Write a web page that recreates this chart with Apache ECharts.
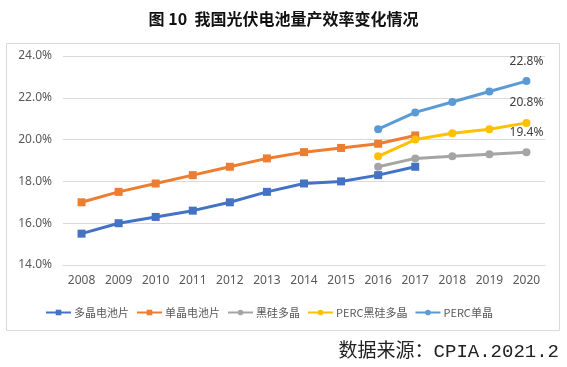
<!DOCTYPE html>
<html><head><meta charset="utf-8">
<script src="https://cdn.jsdelivr.net/npm/echarts@6/dist/echarts.min.js"></script>
<style>html,body{margin:0;padding:0;background:#fff}#c{width:567px;height:367px}</style>
</head><body><div id="c"></div>
<script>
var years = ['2008','2009','2010','2011','2012','2013','2014','2015','2016','2017','2018','2019','2020'];
var polySi = [15.5,16.0,16.3,16.6,17.0,17.5,17.9,18.0,18.3,18.7,null,null,null];
var monoSi = [17.0,17.5,17.9,18.3,18.7,19.1,19.4,19.6,19.8,20.2,null,null,null];
var blackSi = [null,null,null,null,null,null,null,null,18.7,19.1,19.2,19.3,19.4];
var percBlack = [null,null,null,null,null,null,null,null,19.2,20.0,20.3,20.5,20.8];
var percMono = [null,null,null,null,null,null,null,null,20.5,21.3,21.8,22.3,22.8];
var names = ['多晶电池片','单晶电池片','黑硅多晶','PERC黑硅多晶','PERC单晶'];
var colors = ['#4472C4','#ED7D31','#A5A5A5','#FFC000','#5B9BD5'];
var titleText = '图 10  我国光伏电池量产效率变化情况';
var sourceText = '数据来源：CPIA.2021.2';

var chart = echarts.init(document.getElementById('c'), null, {renderer:'canvas'});
var datas = [polySi, monoSi, blackSi, percBlack, percMono];
var symbols = ['rect','rect','circle','circle','circle'];
var labeled = [false,false,true,true,true];
var series = datas.map(function(d,i){
  return {
    name: names[i], type:'line', data: d, connectNulls:false,
    symbol: symbols[i], symbolSize: 8, showAllSymbol:true,
    lineStyle:{width:3, color:colors[i]}, itemStyle:{color:colors[i]},
    label:{show: labeled[i], position:'top', distance:10, color:'#404040', fontSize:12,
      fontFamily:'Noto Sans, sans-serif',
      formatter:function(p){ return p.dataIndex===years.length-1 ? p.value.toFixed(1)+'%' : ''; }},
    emphasis:{disabled:true}, animation:false
  };
});
chart.setOption({
  animation:false,
  backgroundColor:'#fff',
  title:{text:titleText, left:'center', top:6,
    textStyle:{fontSize:16, fontWeight:'bold', color:'#111', fontFamily:'Noto Sans CJK SC'}},
  graphic:[
    {type:'rect', shape:{x:6.5,y:43.5,width:553,height:287}, style:{fill:'none', stroke:'#d9d9d9', lineWidth:1}, z:-1},
    {type:'text', right:8, top:342, style:{text:sourceText, fontSize:19, fill:'#222', fontFamily:'Liberation Mono, Noto Sans CJK SC'}}
  ],
  legend:{data:names, left:40, top:302, itemWidth:25, itemHeight:7, itemGap:7,
    textStyle:{fontSize:11, color:'#595959', fontFamily:'Noto Sans CJK SC', padding:[0,0,0,-2]}},
  grid:{left:63, right:22, top:56, bottom:102},
  xAxis:{type:'category', data:years, boundaryGap:true,
    axisLine:{show:true, lineStyle:{color:'#d9d9d9'}}, axisTick:{show:false},
    axisLabel:{color:'#595959', fontSize:12, margin:10, fontFamily:'Noto Sans'}},
  yAxis:{type:'value', min:14, max:24, interval:2,
    axisLine:{show:false}, axisTick:{show:false},
    splitLine:{lineStyle:{color:'#d9d9d9'}},
    axisLabel:{color:'#595959', fontSize:12, margin:11, fontFamily:'Noto Sans',
      formatter:function(v){return v.toFixed(1)+'%';}}},
  series: series
});
</script></body></html>
